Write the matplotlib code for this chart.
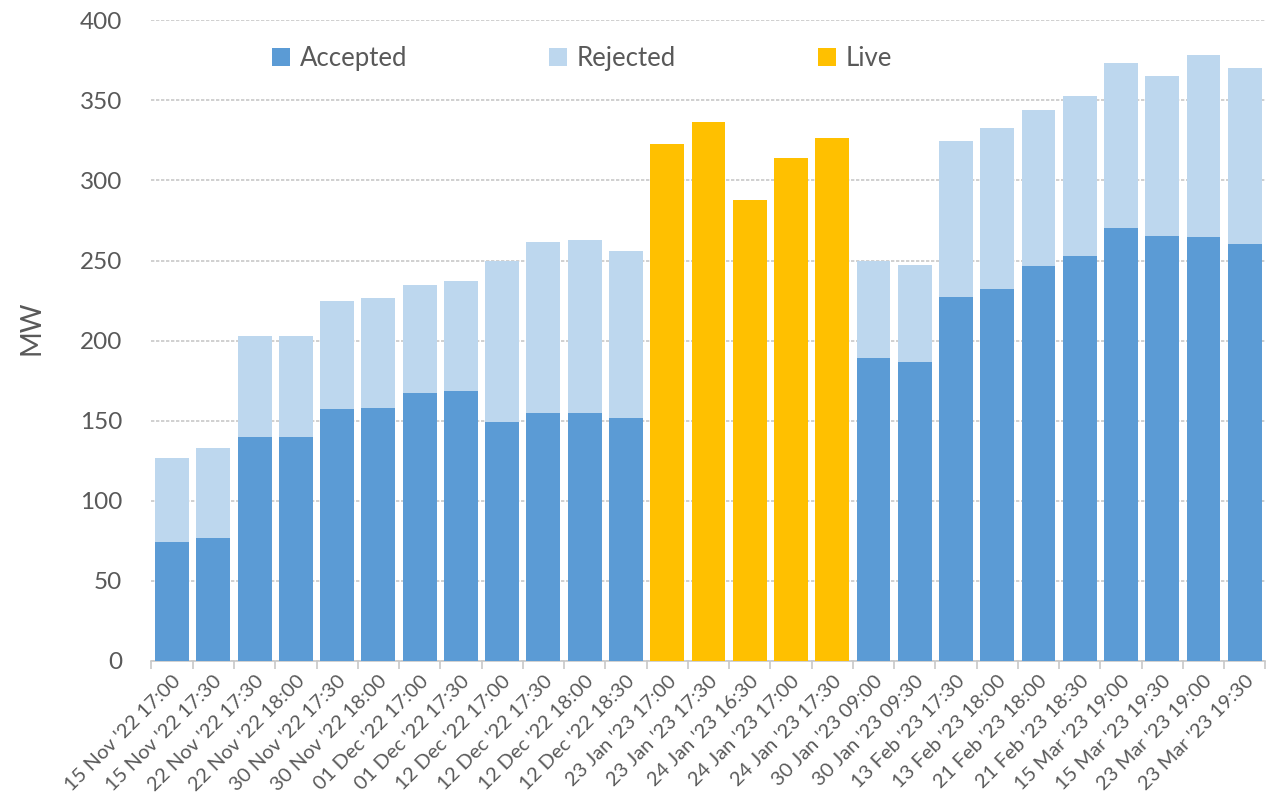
import numpy as np
import matplotlib.pyplot as plt

plt.rcParams['font.family'] = ['Lato', 'DejaVu Sans']

labels = ["15 Nov '22 17:00", "15 Nov '22 17:30", "22 Nov '22 17:30", "22 Nov '22 18:00",
          "30 Nov '22 17:30", "30 Nov '22 18:00", "01 Dec '22 17:00", "01 Dec '22 17:30",
          "12 Dec '22 17:00", "12 Dec '22 17:30", "12 Dec '22 18:00", "12 Dec '22 18:30",
          "23 Jan '23 17:00", "23 Jan '23 17:30", "24 Jan '23 16:30", "24 Jan '23 17:00",
          "24 Jan '23 17:30", "30 Jan '23 09:00", "30 Jan '23 09:30", "13 Feb '23 17:30",
          "13 Feb '23 18:00", "21 Feb '23 18:00", "21 Feb '23 18:30", "15 Mar '23 19:00",
          "15 Mar '23 19:30", "23 Mar '23 19:00", "23 Mar '23 19:30"]

# MW values (Live auctions have no accepted/rejected split)
accepted = [74, 77, 140, 140, 157, 158, 167, 168.5, 149, 155, 155, 151.5,
            0, 0, 0, 0, 0,
            189, 186.5, 227, 232, 246.5, 252.7, 270.6, 265.6, 264.6, 260.4]
total = [126.7, 133, 203, 203, 225, 226.5, 235, 237, 250, 261.5, 263, 256,
         0, 0, 0, 0, 0,
         250, 247, 324.5, 332.6, 344, 352.8, 373, 365, 378.4, 370.2]
live = [0] * 12 + [323, 336.5, 288, 314, 326.5] + [0] * 10

accepted = np.array(accepted)
rejected = np.array(total) - accepted
live = np.array(live)

c_acc = '#5B9BD5'
c_rej = '#BDD7EE'
c_live = '#FFC000'
txt = '#595959'

fig = plt.figure(figsize=(12.73, 8.10), dpi=100)
ax = fig.add_axes([0.119, 0.184, 0.875, 0.791])

x = np.arange(len(labels))
w = 0.82
ax.bar(x, accepted, w, color=c_acc, label='Accepted', zorder=3)
ax.bar(x, rejected, w, bottom=accepted, color=c_rej, label='Rejected', zorder=3)
ax.bar(x, live, w, color=c_live, label='Live', zorder=3)

ax.set_xlim(-0.5, len(labels) - 0.5)
ax.set_ylim(0, 400)
ax.set_yticks(range(0, 401, 50))
ax.yaxis.grid(True, color='#C8C8C8', linestyle=(0, (2, 1)), linewidth=1.2, zorder=0)

ax.set_xticks(x)
ax.set_xticklabels(labels, rotation=45, ha='right', va='top', rotation_mode='anchor',
                   fontsize=14.5, color=txt)
ax.set_xticks(np.arange(-0.5, len(labels), 1), minor=True)
ax.tick_params(axis='x', which='major', length=0, pad=8)
ax.tick_params(axis='x', which='minor', length=6, color='#C8C8C8', width=1.2)
ax.tick_params(axis='y', length=0, labelsize=17.5, labelcolor=txt, pad=21)

for s in ['top', 'right', 'left']:
    ax.spines[s].set_visible(False)
ax.spines['bottom'].set_color('#C8C8C8')
ax.spines['bottom'].set_linewidth(1.2)

ax.set_ylabel('MW', fontsize=20, color=txt)
ax.yaxis.set_label_coords(-0.096, 0.52)

leg = ax.legend(loc='center left', bbox_to_anchor=(0.0987, 0.94), borderaxespad=0,
                ncol=3, frameon=False, fontsize=18.5, handlelength=0.7, handleheight=0.7,
                handletextpad=0.4, columnspacing=5.5)
for t in leg.get_texts():
    t.set_color(txt)

fig.savefig('out.png', dpi=100)
